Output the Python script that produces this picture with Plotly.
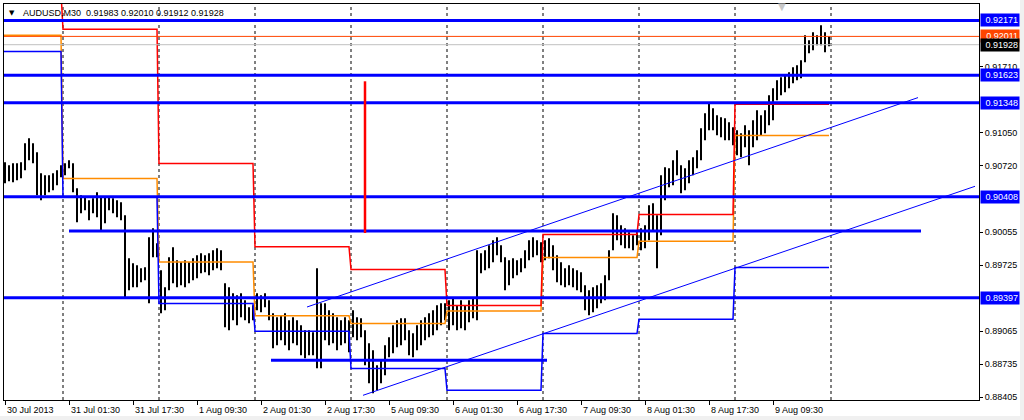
import plotly.graph_objects as go

# ---------------- data ----------------
# bar index 0 = 31 Jul 2013 00:00 (M30 bars); each column below is one hour (2 bars)
FIRST_BAR = -29
BAR_STEP = 2

HIGHS = [
    # 30 Jul
    0.90752, 0.90722, 0.90742, 0.90742, 0.90752, 0.90942, 0.90992, 0.90942, 0.90852, 0.90642, 0.90622, 0.90622, 0.90642, 0.90672, 0.90722,
    # 31 Jul
    0.90742, 0.90772, 0.90742, 0.90492, 0.90422, 0.90402, 0.90372, 0.90392, 0.90452, 0.90402, 0.90402, 0.90402, 0.90392, 0.90372, 0.90352, 0.90222, 0.89792, 0.89742, 0.89722, 0.89692, 0.89702, 0.90002, 0.90092, 0.89942,
    # 1 Aug
    0.89672, 0.89502, 0.89802, 0.89902, 0.89772, 0.89752, 0.89772, 0.89752, 0.89792, 0.89822, 0.89842, 0.89822, 0.89842, 0.89872, 0.89892, 0.89872, 0.89542, 0.89502, 0.89442, 0.89422, 0.89442, 0.89372, 0.89302, 0.89322,
    # 2 Aug
    0.89442, 0.89422, 0.89442, 0.89372, 0.89242, 0.89202, 0.89222, 0.89242, 0.89172, 0.89202, 0.89172, 0.89122, 0.89072, 0.89072, 0.89052, 0.89692, 0.89342, 0.89342, 0.89272, 0.89242, 0.89202, 0.89172, 0.89202, 0.89172,
    # 5 Aug
    0.89272, 0.89202, 0.89192, 0.89072, 0.88942, 0.88872, 0.88722, 0.88772, 0.88922, 0.89002, 0.89122, 0.89172, 0.89192, 0.89192, 0.89072, 0.89042, 0.89122, 0.89172, 0.89202, 0.89242, 0.89272, 0.89322, 0.89342, 0.89342,
    # 6 Aug
    0.89372, 0.89392, 0.89322, 0.89372, 0.89322, 0.89372, 0.89392, 0.89872, 0.89842, 0.89872, 0.89922, 0.89972, 0.90002, 0.89922, 0.89802, 0.89772, 0.89792, 0.89772, 0.89792, 0.89872, 0.89972, 0.90002, 0.89972, 0.89952,
    # 7 Aug
    0.89972, 0.89992, 0.89922, 0.89822, 0.89752, 0.89692, 0.89722, 0.89692, 0.89672, 0.89652, 0.89522, 0.89472, 0.89502, 0.89522, 0.89542, 0.89622, 0.89872, 0.90242, 0.90222, 0.90122, 0.90092, 0.90052, 0.90022, 0.90072,
    # 8 Aug
    0.90092, 0.90122, 0.90322, 0.90342, 0.90222, 0.90622, 0.90702, 0.90692, 0.90772, 0.90872, 0.90722, 0.90692, 0.90772, 0.90802, 0.90872, 0.91092, 0.91242, 0.91342, 0.91292, 0.91222, 0.91202, 0.91192, 0.91152, 0.91102,
    # 9 Aug
    0.91072, 0.91042, 0.91122, 0.91072, 0.91172, 0.91272, 0.91222, 0.91272, 0.91422, 0.91492, 0.91572, 0.91602, 0.91622, 0.91652, 0.91702, 0.91722, 0.91772, 0.92022, 0.91972, 0.92052, 0.92022, 0.92122, 0.92052, 0.92010,
]
LOWS = [
    # 30 Jul
    0.90542, 0.90562, 0.90552, 0.90572, 0.90592, 0.90672, 0.90772, 0.90742, 0.90422, 0.90372, 0.90422, 0.90452, 0.90472, 0.90522, 0.90602,
    # 31 Jul
    0.90622, 0.90692, 0.90452, 0.90152, 0.90242, 0.90272, 0.90172, 0.90242, 0.90202, 0.90072, 0.90142, 0.90272, 0.90242, 0.90202, 0.90172, 0.89402, 0.89472, 0.89502, 0.89502, 0.89552, 0.89572, 0.89342, 0.89802, 0.89802,
    # 1 Aug
    0.89242, 0.89272, 0.89472, 0.89542, 0.89502, 0.89522, 0.89502, 0.89542, 0.89572, 0.89592, 0.89642, 0.89652, 0.89622, 0.89672, 0.89692, 0.89672, 0.89102, 0.89072, 0.89172, 0.89122, 0.89202, 0.89172, 0.89142, 0.89172,
    # 2 Aug
    0.89272, 0.89252, 0.89302, 0.89172, 0.88892, 0.88922, 0.88972, 0.88922, 0.88872, 0.88942, 0.88922, 0.88822, 0.88792, 0.88822, 0.88822, 0.88692, 0.88692, 0.88972, 0.88922, 0.88942, 0.88872, 0.88922, 0.88942, 0.88852,
    # 5 Aug
    0.89002, 0.88972, 0.89002, 0.88722, 0.88542, 0.88442, 0.88472, 0.88542, 0.88622, 0.88802, 0.88842, 0.88902, 0.88922, 0.88972, 0.88822, 0.88802, 0.88872, 0.88922, 0.88972, 0.89002, 0.89022, 0.89072, 0.89122, 0.89172,
    # 6 Aug
    0.89072, 0.89122, 0.89072, 0.89092, 0.89072, 0.89152, 0.89192, 0.89172, 0.89642, 0.89672, 0.89692, 0.89752, 0.89822, 0.89752, 0.89472, 0.89522, 0.89592, 0.89622, 0.89652, 0.89692, 0.89772, 0.89802, 0.89822, 0.89752,
    # 7 Aug
    0.89772, 0.89792, 0.89672, 0.89552, 0.89522, 0.89502, 0.89522, 0.89502, 0.89472, 0.89452, 0.89272, 0.89222, 0.89252, 0.89292, 0.89342, 0.89372, 0.89572, 0.89872, 0.89972, 0.89922, 0.89892, 0.89892, 0.89872, 0.89922,
    # 8 Aug
    0.89872, 0.89892, 0.89972, 0.90072, 0.89692, 0.90022, 0.90372, 0.90502, 0.90522, 0.90622, 0.90442, 0.90472, 0.90542, 0.90622, 0.90692, 0.90772, 0.90972, 0.91072, 0.91072, 0.91022, 0.91002, 0.90972, 0.90972, 0.90922,
    # 9 Aug
    0.90822, 0.90802, 0.90902, 0.90722, 0.90902, 0.90972, 0.91022, 0.91042, 0.91122, 0.91172, 0.91372, 0.91422, 0.91452, 0.91492, 0.91542, 0.91572, 0.91592, 0.91752, 0.91842, 0.91872, 0.91922, 0.91922, 0.91852, 0.91912,
]

# daily step indicators (30 Jul .. 9 Aug)
DAY_STARTS = [-30, 0, 48, 96, 144, 192, 240, 288, 336]
LAST_BAR = 383
DAY_SEPARATORS = [0, 48, 96, 144, 192, 240, 288, 336, 384]
RED_LEVELS = [0.92450, 0.92082, 0.90739, 0.89907, 0.89679, 0.89319, 0.90029, 0.90229, 0.91332]
ORANGE_LEVELS = [0.92022, 0.90589, 0.89755, 0.89217, 0.89139, 0.89265, 0.89799, 0.89962, 0.91019]
BLUE_LEVELS = [0.91859, 0.90405, 0.89339, 0.89062, 0.88689, 0.88472, 0.89039, 0.89182, 0.89699]

# drawn objects
HLINES = [0.92171, 0.91623, 0.91348, 0.90408, 0.89397]
PARTIAL_PRICES = [0.90065, 0.88772]
PARTIAL_FROM = [3, 104]
PARTIAL_TO = [429, 242]
TREND_X0 = [122, 150]
TREND_Y0 = [0.89305, 0.88422]
TREND_X1 = [427.5, 456]
TREND_Y1 = [0.91399, 0.90512]
RED_VLINE_BAR = 151
RED_VLINE_PRICES = [0.91562, 0.90045]
ASK = 0.92011
BID = 0.91928
TITLE = "AUDUSD,M30  0.91983 0.92010 0.91912 0.91928"

Y_TICKS = [0.88405, 0.88735, 0.89065, 0.89725, 0.90055, 0.90720, 0.91050, 0.91710]
X_TICK_BARS = [-29, 3, 35, 67, 99, 131, 163, 195, 227, 259, 291, 323, 355]
X_TICK_TEXT = ["30 Jul 2013", "31 Jul 01:30", "31 Jul 17:30", "1 Aug 09:30", "2 Aug 01:30",
               "2 Aug 17:30", "5 Aug 09:30", "6 Aug 01:30", "6 Aug 17:30", "7 Aug 09:30",
               "8 Aug 01:30", "8 Aug 17:30", "9 Aug 09:30"]

# ---------------- figure ----------------
FONT = "Liberation Sans, Arial, sans-serif"
X_RANGE = [-29.5, 458]
Y_RANGE = [0.88375, 0.92335]

fig = go.Figure()

# price bars
bx, by = [], []
for k, (h, l) in enumerate(zip(HIGHS, LOWS)):
    x = FIRST_BAR + BAR_STEP * k
    bx += [x, x, None]
    by += [l, h, None]
fig.add_trace(go.Scatter(x=bx, y=by, mode="lines", line=dict(color="black", width=2),
                         hoverinfo="skip", showlegend=False))


def step_line(levels, color):
    xs, ys = [], []
    for d, v in enumerate(levels):
        s = DAY_STARTS[d]
        e = DAY_STARTS[d + 1] - 1 if d + 1 < len(DAY_STARTS) else LAST_BAR
        xs += [s, e]
        ys += [v, v]
    fig.add_trace(go.Scatter(x=xs, y=ys, mode="lines", line=dict(color=color, width=1.5),
                             hoverinfo="skip", showlegend=False))


step_line(ORANGE_LEVELS, "#ff8c00")
step_line(BLUE_LEVELS, "#0000ff")
step_line(RED_LEVELS, "#ff0000")

shapes = []
# day separators
for b in DAY_SEPARATORS:
    shapes.append(dict(type="line", xref="x", yref="paper", x0=b, x1=b, y0=0, y1=1,
                       line=dict(color="black", width=1, dash="3px,3px"), layer="below"))
# bid / ask lines
shapes.append(dict(type="line", xref="paper", yref="y", x0=0, x1=1, y0=BID, y1=BID,
                   line=dict(color="#c0c0c0", width=1)))
shapes.append(dict(type="line", xref="paper", yref="y", x0=0, x1=1, y0=ASK, y1=ASK,
                   line=dict(color="#ff4500", width=1)))
# horizontal levels
for p in HLINES:
    shapes.append(dict(type="line", xref="paper", yref="y", x0=0, x1=1, y0=p, y1=p,
                       line=dict(color="#0000ff", width=3)))
for p, a, b in zip(PARTIAL_PRICES, PARTIAL_FROM, PARTIAL_TO):
    shapes.append(dict(type="line", xref="x", yref="y", x0=a, x1=b, y0=p, y1=p,
                       line=dict(color="#0000ff", width=3)))
# trend channel
for x0, y0, x1, y1 in zip(TREND_X0, TREND_Y0, TREND_X1, TREND_Y1):
    shapes.append(dict(type="line", xref="x", yref="y", x0=x0, x1=x1, y0=y0, y1=y1,
                       line=dict(color="#0000ff", width=1)))
# red vertical
shapes.append(dict(type="line", xref="x", yref="y", x0=RED_VLINE_BAR, x1=RED_VLINE_BAR,
                   y0=RED_VLINE_PRICES[0], y1=RED_VLINE_PRICES[1],
                   line=dict(color="#ff0000", width=2.5)))
# window frame strips
shapes.append(dict(type="rect", xref="paper", yref="paper", x0=1.0421, x1=1.0462, y0=-0.0505, y1=1.0101,
                   line=dict(width=0), fillcolor="#f0f0f0"))
shapes.append(dict(type="rect", xref="paper", yref="paper", x0=-0.0041, x1=1.0462, y0=-0.0505, y1=-0.0404,
                   line=dict(width=0), fillcolor="#f0f0f0"))

annotations = []
for b, t in zip(X_TICK_BARS, X_TICK_TEXT):
    annotations.append(dict(x=b, y=-0.0253, xref="x", yref="paper", text=t, showarrow=False,
                            xanchor="left", yanchor="middle", font=dict(family=FONT, size=9, color="black")))


def price_box(p, bg):
    annotations.append(dict(x=1.00103, y=p, xref="paper", yref="y", text=f"{p:.5f}", showarrow=False,
                            xanchor="left", yanchor="middle", width=36, height=10, borderpad=1,
                            align="right", bgcolor=bg, font=dict(family=FONT, size=9, color="white")))


for p in HLINES:
    price_box(p, "#0000ff")
price_box(ASK, "#ff4500")
price_box(BID, "#000000")

annotations.append(dict(x=0.0174, y=0.978, xref="paper", yref="paper", text=TITLE, showarrow=False,
                        xanchor="left", yanchor="middle", font=dict(family=FONT, size=9, color="black")))
annotations.append(dict(x=0.0077, y=0.978, xref="paper", yref="paper", text="▼", showarrow=False,
                        xanchor="center", yanchor="middle", font=dict(family="DejaVu Sans", size=7, color="black")))
annotations.append(dict(x=0.798, y=0.993, xref="paper", yref="paper", text="▼", showarrow=False,
                        xanchor="center", yanchor="middle", font=dict(family="DejaVu Sans", size=10, color="#c8c8c8")))

fig.update_layout(
    width=1024, height=420,
    margin=dict(l=4, r=45, t=4, b=20, pad=0),
    paper_bgcolor="white", plot_bgcolor="white",
    showlegend=False,
    shapes=shapes, annotations=annotations,
    xaxis=dict(range=X_RANGE, tickvals=X_TICK_BARS, showticklabels=False, ticks="outside", ticklen=4,
               tickcolor="black", showgrid=False, zeroline=False, showline=True, mirror=True,
               linecolor="black", linewidth=1, fixedrange=True),
    yaxis=dict(range=Y_RANGE, side="right", tickvals=Y_TICKS, ticktext=[f"{v:.5f}" for v in Y_TICKS],
               ticks="outside", ticklen=3, tickcolor="black", showgrid=False, zeroline=False,
               showline=True, mirror=True, linecolor="black", linewidth=1,
               tickfont=dict(family=FONT, size=9, color="black"), fixedrange=True),
)

fig.write_html("out.html", config={"displayModeBar": False},
               post_script="document.body.style.margin='0px';document.body.style.overflow='hidden';")
